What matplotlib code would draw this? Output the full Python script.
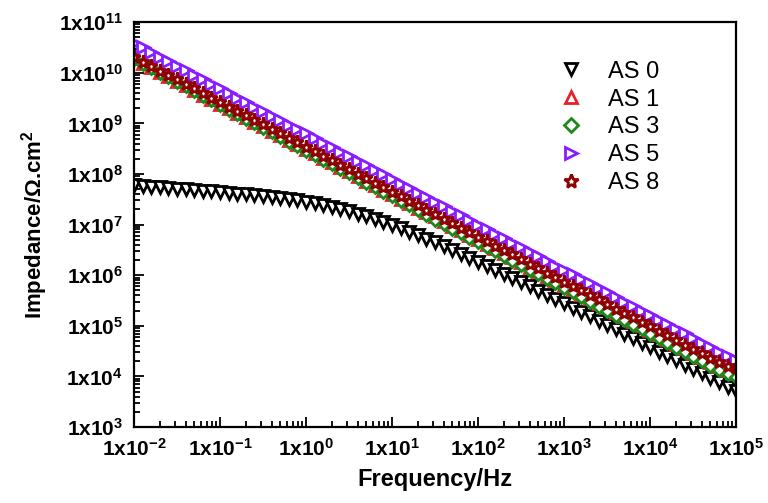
import numpy as np
import matplotlib
matplotlib.use("Agg")
import matplotlib.pyplot as plt
from matplotlib.ticker import LogLocator, FixedLocator, NullFormatter

plt.rcParams['font.family'] = ['Liberation Sans', 'DejaVu Sans']
plt.rcParams['mathtext.fontset'] = 'custom'
plt.rcParams['mathtext.rm'] = 'Liberation Sans'
plt.rcParams['mathtext.bf'] = 'Liberation Sans:bold'

# frequency sweep, log10(Hz), 10 points per decade
log_freq = [-2.0, -1.9, -1.8, -1.7, -1.6, -1.5, -1.4, -1.3, -1.2, -1.1,
            -1.0, -0.9, -0.8, -0.7, -0.6, -0.5, -0.4, -0.3, -0.2, -0.1,
            0.0, 0.1, 0.2, 0.3, 0.4, 0.5, 0.6, 0.7, 0.8, 0.9,
            1.0, 1.1, 1.2, 1.3, 1.4, 1.5, 1.6, 1.7, 1.8, 1.9,
            2.0, 2.1, 2.2, 2.3, 2.4, 2.5, 2.6, 2.7, 2.8, 2.9,
            3.0, 3.1, 3.2, 3.3, 3.4, 3.5, 3.6, 3.7, 3.8, 3.9,
            4.0, 4.1, 4.2, 4.3, 4.4, 4.5, 4.6, 4.7, 4.8, 4.9, 5.0]

# log10 of impedance (ohm.cm2)
log_z_as0 = [7.78, 7.77, 7.75, 7.74, 7.73, 7.71, 7.70, 7.69, 7.67, 7.66,
             7.64, 7.63, 7.61, 7.60, 7.58, 7.56, 7.54, 7.52, 7.50, 7.48,
             7.45, 7.42, 7.39, 7.35, 7.31, 7.26, 7.21, 7.16, 7.11, 7.05,
             6.99, 6.93, 6.86, 6.79, 6.72, 6.65, 6.57, 6.50, 6.42, 6.34,
             6.26, 6.18, 6.10, 6.02, 5.94, 5.86, 5.78, 5.69, 5.61, 5.53,
             5.45, 5.36, 5.28, 5.19, 5.10, 5.02, 4.93, 4.84, 4.76, 4.67,
             4.58, 4.49, 4.41, 4.32, 4.23, 4.15, 4.06, 3.97, 3.89, 3.80, 3.71]
log_z_as1 = [10.29, 10.20, 10.11, 10.02, 9.93, 9.84, 9.75, 9.66, 9.57, 9.48,
             9.39, 9.30, 9.21, 9.12, 9.03, 8.94, 8.85, 8.77, 8.68, 8.59,
             8.50, 8.41, 8.32, 8.23, 8.14, 8.05, 7.96, 7.87, 7.78, 7.69,
             7.60, 7.51, 7.42, 7.33, 7.25, 7.16, 7.07, 6.98, 6.89, 6.80,
             6.71, 6.62, 6.53, 6.44, 6.35, 6.26, 6.17, 6.08, 5.99, 5.90,
             5.81, 5.72, 5.63, 5.55, 5.46, 5.37, 5.28, 5.19, 5.10, 5.01,
             4.92, 4.83, 4.74, 4.65, 4.56, 4.47, 4.38, 4.29, 4.21, 4.12, 4.07]
log_z_as3 = [10.27, 10.18, 10.09, 10.00, 9.91, 9.82, 9.73, 9.64, 9.55, 9.46,
             9.37, 9.27, 9.18, 9.09, 9.00, 8.91, 8.82, 8.73, 8.64, 8.55,
             8.46, 8.37, 8.28, 8.19, 8.10, 8.01, 7.92, 7.83, 7.74, 7.65,
             7.56, 7.47, 7.38, 7.28, 7.19, 7.10, 7.01, 6.92, 6.83, 6.74,
             6.65, 6.56, 6.47, 6.38, 6.29, 6.20, 6.11, 6.02, 5.93, 5.84,
             5.75, 5.66, 5.57, 5.48, 5.38, 5.29, 5.20, 5.11, 5.02, 4.93,
             4.84, 4.75, 4.66, 4.57, 4.48, 4.39, 4.30, 4.21, 4.12, 4.04, 3.98]
log_z_as5 = [10.59, 10.50, 10.41, 10.32, 10.23, 10.14, 10.05, 9.96, 9.87, 9.78,
             9.69, 9.60, 9.51, 9.42, 9.33, 9.24, 9.15, 9.06, 8.97, 8.88,
             8.80, 8.71, 8.62, 8.53, 8.44, 8.35, 8.26, 8.17, 8.08, 7.99,
             7.90, 7.81, 7.72, 7.63, 7.54, 7.45, 7.36, 7.27, 7.18, 7.09,
             7.00, 6.91, 6.82, 6.73, 6.64, 6.55, 6.46, 6.37, 6.28, 6.19,
             6.11, 6.02, 5.93, 5.84, 5.75, 5.66, 5.57, 5.48, 5.39, 5.30,
             5.21, 5.12, 5.03, 4.94, 4.85, 4.76, 4.67, 4.58, 4.49, 4.40, 4.32]
log_z_as8 = [10.31, 10.22, 10.13, 10.04, 9.96, 9.87, 9.78, 9.69, 9.60, 9.51,
             9.42, 9.33, 9.25, 9.16, 9.07, 8.98, 8.89, 8.80, 8.71, 8.63,
             8.54, 8.45, 8.36, 8.27, 8.18, 8.09, 8.00, 7.92, 7.83, 7.74,
             7.65, 7.56, 7.47, 7.38, 7.29, 7.21, 7.12, 7.03, 6.94, 6.85,
             6.76, 6.67, 6.58, 6.50, 6.41, 6.32, 6.23, 6.14, 6.05, 5.96,
             5.87, 5.79, 5.70, 5.61, 5.52, 5.43, 5.34, 5.25, 5.17, 5.08,
             4.99, 4.90, 4.81, 4.72, 4.63, 4.54, 4.46, 4.37, 4.28, 4.21, 4.16]

labels = ['AS 0', 'AS 1', 'AS 3', 'AS 5', 'AS 8']
colors = ['black', '#e8202a', '#1b8a1b', '#8a1cff', '#900000']
markers = ['v', '^', 'D', '>', '*']
sizes = [8, 8, 6.5, 8, 9.5]

x_exp = [-2, -1, 0, 1, 2, 3, 4, 5]
y_exp = [3, 4, 5, 6, 7, 8, 9, 10, 11]

fig = plt.figure(figsize=(7.68, 5.03), dpi=100)
ax = fig.add_axes([0.1745, 0.151, 0.784, 0.805])

freq = 10 ** np.array(log_freq)
series = [log_z_as0, log_z_as1, log_z_as3, log_z_as5, log_z_as8]
for lz, lab, c, m, s in zip(series, labels, colors, markers, sizes):
    ax.plot(freq, 10 ** np.array(lz), linestyle='none', marker=m, ms=s,
            mec=c, mfc='white', mew=2.0, label=lab)

ax.set_xscale('log')
ax.set_yscale('log')
ax.set_xlim(1e-2, 1e5)
ax.set_ylim(1e3, 1e11)

ax.xaxis.set_major_locator(FixedLocator([10.0 ** e for e in x_exp]))
ax.yaxis.set_major_locator(FixedLocator([10.0 ** e for e in y_exp]))
ax.set_xticklabels([r'$\mathbf{1x10^{%d}}$' % e for e in x_exp])
ax.set_yticklabels([r'$\mathbf{1x10^{%d}}$' % e for e in y_exp])
ax.xaxis.set_minor_locator(LogLocator(base=10, subs=np.arange(2, 10), numticks=20))
ax.yaxis.set_minor_locator(LogLocator(base=10, subs=np.arange(2, 10), numticks=20))
ax.xaxis.set_minor_formatter(NullFormatter())
ax.yaxis.set_minor_formatter(NullFormatter())

ax.tick_params(which='both', direction='in', top=False, right=False,
               width=1.3, labelsize=15)
ax.tick_params(which='major', length=7)
ax.tick_params(which='minor', length=4)
ax.tick_params(axis='y', pad=8)
ax.tick_params(axis='x', pad=8)
for sp in ax.spines.values():
    sp.set_linewidth(1.6)

ax.set_xlabel('Frequency/Hz', fontsize=17, fontweight='bold', labelpad=6)
ax.set_ylabel(r'Impedance/Ω.cm$^{\mathbf{2}}$', fontsize=16, fontweight='bold', labelpad=6)

ax.legend(loc='upper left', bbox_to_anchor=(0.682, 0.934), frameon=False,
          borderpad=0, fontsize=17, handlelength=1.2, handletextpad=1.0,
          labelspacing=0.25, markerscale=1.1)

fig.savefig('out.png', dpi=100)
